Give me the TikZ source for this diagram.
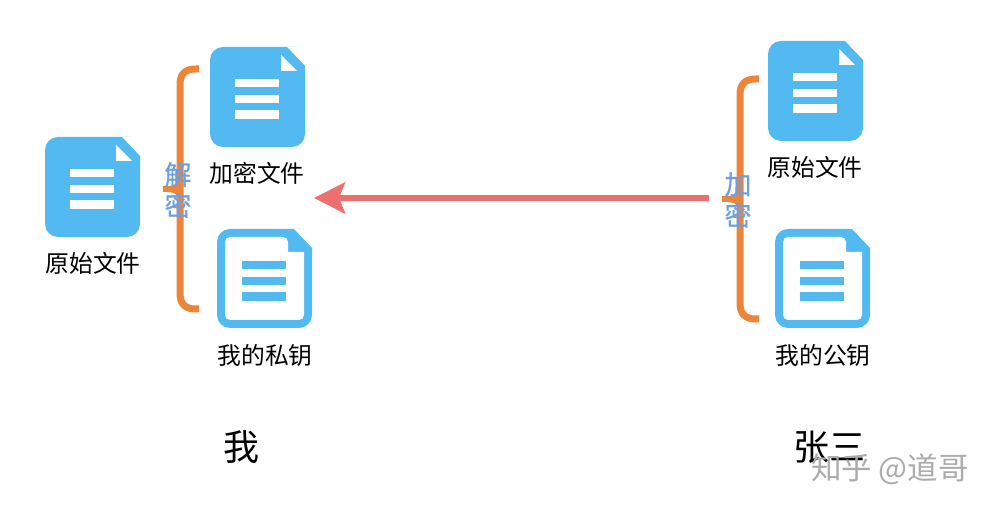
\documentclass[tikz,border=0pt]{standalone}
\usepackage{fontspec}
\usetikzlibrary{arrows.meta}
\newfontfamily\cjk{Noto Sans CJK SC}
\newfontfamily\cjkheavy[FakeBold=0.5]{Noto Sans CJK SC}
\definecolor{docblue}{HTML}{52BAF0}
\definecolor{bracecol}{HTML}{EC843A}
\definecolor{arrowcol}{HTML}{EE6F6F}
\definecolor{stepcol}{HTML}{6C9FE2}
\tikzset{
    doclabel/.style = {inner sep=0pt, font=\cjk\fontsize{23.8}{24}\selectfont},
    owner/.style = {inner sep=0pt, font=\cjk\fontsize{36}{36}\selectfont},
    steplabel/.style = {inner sep=0pt, align=center, text=stepcol, font=\cjkheavy\fontsize{27}{31}\selectfont},
    brace/.style = {draw=bracecol, line width=7pt},
    nib/.style = {draw=bracecol, line width=5.5pt, line cap=round},
    bars/.pic = {
        \fill[#1] (25,32) rectangle (69,40);
        \fill[#1] (25,48) rectangle (69,56);
        \fill[#1] (25,63) rectangle (69,72);
    },
    docfilled/.pic = {
        \fill[docblue, rounded corners=13pt] (0,0) -- (74,0) [sharp corners] -- (77,0) -- (95,19) [rounded corners=13pt] -- (95,100) -- (0,100) -- cycle;
        \fill[white] (71,8) -- (87,24) -- (71,24) -- cycle;
        \pic {bars=white};
    },
    docoutline/.pic = {
        \fill[docblue, rounded corners=13pt] (0,0) -- (74,0) [sharp corners] -- (77,0) -- (95,19) [rounded corners=13pt] -- (95,99) -- (0,99) -- cycle;
        \fill[white, rounded corners=5pt] (8,8) -- (71,8) [sharp corners] -- (71,23) -- (87,23) [rounded corners=5pt] -- (87,91) -- (8,91) -- cycle;
        \pic {bars=docblue};
    },
}
\begin{document}
\begin{tikzpicture}[x=1pt, y=-1pt]
    \useasboundingbox (0,0) rectangle (994,510);
    % files on my side
    \pic at (45,137) {docfilled};
    \pic at (210,47) {docfilled};
    \pic at (217,229) {docoutline};
    \node[doclabel] (origleft) at (93,263) {原始文件};
    \node[doclabel] (encleft) at (257,173) {加密文件};
    \node[doclabel] (privkey) at (265,355) {我的私钥};
    % files on the other side
    \pic at (768,41) {docfilled};
    \pic at (775,229) {docoutline};
    \node[doclabel] (origright) at (815,167) {原始文件};
    \node[doclabel] (pubkey) at (823,355) {我的公钥};
    % braces
    \draw[brace] (199,69) -- (196,69) .. controls (185,69) and (180,74) .. (180,85) -- (180,293) .. controls (180,304) and (185,309) .. (196,309) -- (199,309);
    \draw[nib] (180,180) .. controls (180,186) and (176,189) .. (163,189) .. controls (176,189) and (180,192) .. (180,198);
    \draw[brace] (759,79) -- (756,79) .. controls (745,79) and (740,84) .. (740,95) -- (740,303) .. controls (740,314) and (745,319) .. (756,319) -- (759,319);
    \draw[nib] (740,190) .. controls (740,196) and (736,199) .. (722,199) .. controls (736,199) and (740,202) .. (740,208);
    % the arrow
    \coordinate (sendstart) at (709,198);
    \coordinate (sendend) at (314,198);
    \draw[arrowcol, line width=6pt, -{Stealth[length=31pt, width=31pt, inset=6pt]}] (sendstart) -- (sendend);
    % labels on the braces
    \node[steplabel] (decrypt) at (178,190) {解\\密};
    \node[steplabel] (encrypt) at (738,200) {加\\密};
    \node[owner] (me) at (241,447) {我};
    \node[owner] (other) at (829,447) {张三};
    \node[inner sep=0pt, text=black!33, font=\cjk\fontsize{30.5}{30}\selectfont] (mark) at (890,469) {知乎 @道哥};
\end{tikzpicture}
\end{document}
